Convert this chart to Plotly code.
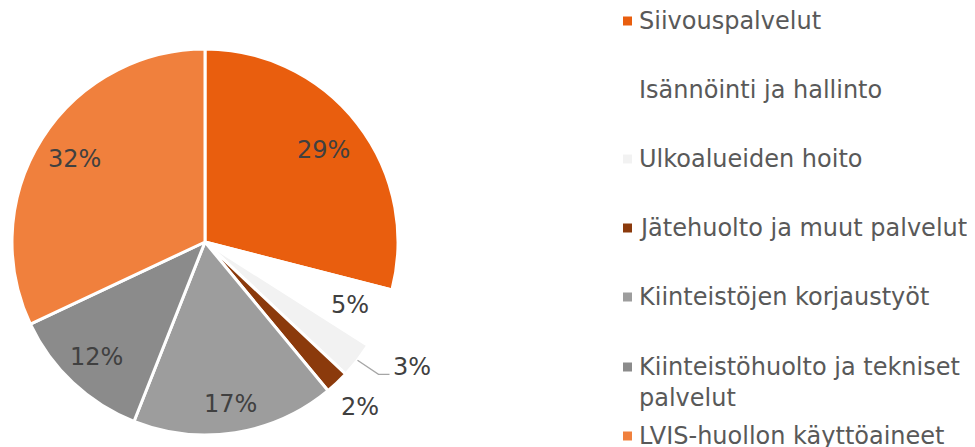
import math
import plotly.graph_objects as go

labels = ["Siivouspalvelut", "Isännöinti ja hallinto", "Ulkoalueiden hoito",
          "Jätehuolto ja muut palvelut", "Kiinteistöjen korjaustyöt",
          "Kiinteistöhuolto ja tekniset<br>palvelut", "LVIS-huollon käyttöaineet"]
values = [29, 5, 3, 2, 17, 12, 32]
colors = ["#E95E0E", "#FFFFFF", "#F2F2F2", "#8B3A0C", "#9D9D9D", "#8B8B8B", "#F0803D"]

FONT = "Verdana, DejaVu Sans, sans-serif"
# page body has an 8px margin; figure sized to fill the rest of the 975x447 window
OFF = 8
W, H = 975 - OFF, 447 - OFF


def px(x, y):
    """window pixel coords -> paper coords"""
    return (x - OFF) / W, (H - (y - OFF)) / H


cx, cy, R = 205, 242, 193  # window pixels
(dx0, dy0), (dx1, dy1) = px(cx - R, cy + R), px(cx + R, cy - R)

fig = go.Figure()
fig.add_trace(go.Pie(
    labels=labels, values=values, sort=False, direction="clockwise", rotation=0,
    marker=dict(colors=colors, line=dict(color="white", width=3)),
    textinfo="none", showlegend=False, hoverinfo="label+percent",
    domain=dict(x=[dx0, dx1], y=[dy0, dy1]),
))

# percentage labels at each slice's mid-angle
label_r = [0.78, 0.82, None, 1.17, 0.85, 0.82, 0.80]
total = sum(values)
cum = 0
for v, lr in zip(values, label_r):
    ang = (cum + v / 2) / total * 2 * math.pi
    cum += v
    sx, sy = math.sin(ang), -math.cos(ang)
    txt = f"{round(v / total * 100)}%"
    if lr is None:
        # outside label with elbow leader line
        x1, y1 = cx + R * sx, cy + R * sy
        x2, y2 = x1 + 21, y1 + 14
        x3 = x2 + 11
        p1, p2, p3 = px(x1, y1), px(x2, y2), px(x3, y2)
        fig.add_shape(type="path", xref="paper", yref="paper",
                      path=f"M {p1[0]},{p1[1]} L {p2[0]},{p2[1]} L {p3[0]},{p3[1]}",
                      line=dict(color="#A6A6A6", width=1.3))
        tx, ty = px(x3 + 2, y2 - 7)
        fig.add_annotation(xref="paper", yref="paper", x=tx, y=ty, text=txt,
                           showarrow=False, xanchor="left", yanchor="middle",
                           font=dict(family=FONT, size=24, color="#404040"))
    else:
        tx, ty = px(cx + lr * R * sx, cy + lr * R * sy)
        fig.add_annotation(xref="paper", yref="paper", x=tx, y=ty, text=txt,
                           showarrow=False, xanchor="center", yanchor="middle",
                           font=dict(family=FONT, size=24, color="#404040"))

# legend drawn as squares + annotations
leg_y = [21, 90, 159, 228, 297, 367, 436]
for lab, col, y in zip(labels, colors, leg_y):
    (qx0, qy0), (qx1, qy1) = px(623, y + 4.5), px(632, y - 4.5)
    fig.add_shape(type="rect", xref="paper", yref="paper",
                  x0=qx0, x1=qx1, y0=qy0, y1=qy1, fillcolor=col, line=dict(width=0))
    nlines = lab.count("<br>") + 1
    ax, ay = px(637, y + 15 * (nlines - 1))
    fig.add_annotation(xref="paper", yref="paper", x=ax, y=ay, text=lab,
                       showarrow=False, xanchor="left", yanchor="middle", align="left",
                       font=dict(family=FONT, size=24, color="#595959"))

fig.update_layout(width=W, height=H, margin=dict(l=0, r=0, t=0, b=0),
                  paper_bgcolor="white", plot_bgcolor="white")
fig.write_html("out.html")
